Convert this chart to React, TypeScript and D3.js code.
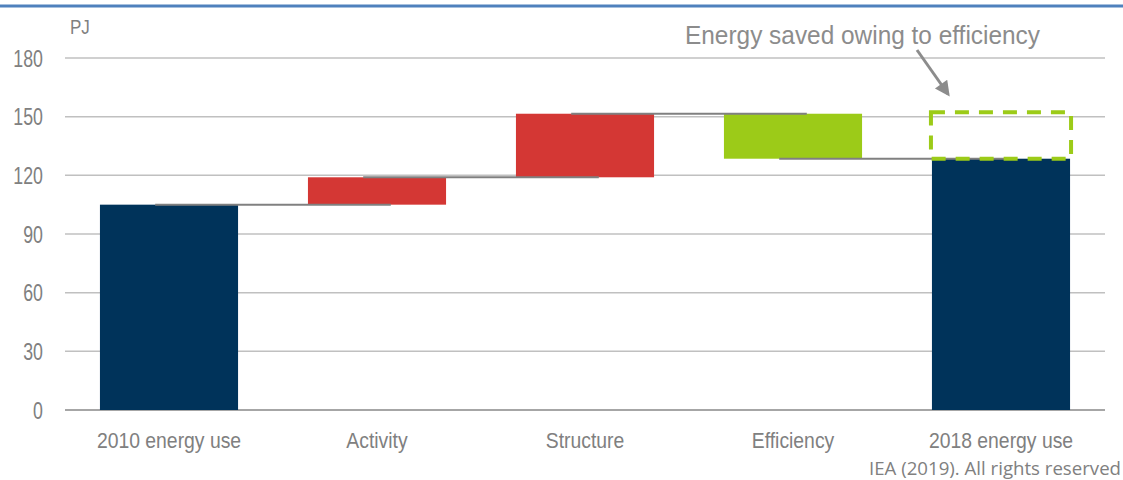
import React from "react";
import * as d3 from "d3";

const categories = ["2010 energy use", "Activity", "Structure", "Efficiency", "2018 energy use"];
const values = [105, 14, 32.5, -23, 128.5];
const kinds = ["total", "up", "up", "down", "total"];
const yTicks = [0, 30, 60, 90, 120, 150, 180];
const unitLabel = "PJ";
const annotation = "Energy saved owing to efficiency";
const source = "IEA (2019). All rights reserved";

const W = 1123;
const H = 480;
const colors: Record<string, string> = { total: "#00335a", up: "#d43734", down: "#9ccb18" };

function CText(props: { x: number; y: number; sx: number; size: number; anchor?: string; fill: string; children: React.ReactNode }) {
  return (
    <text transform={`translate(${props.x},${props.y}) scale(${props.sx},1)`} fontSize={props.size}
      textAnchor={props.anchor || "start"} fill={props.fill}>{props.children}</text>
  );
}

export default function App() {
  const x = d3.scaleBand<string>().domain(categories).range([65, 1105]).paddingInner(0.336).paddingOuter(0.168);
  const y = d3.scaleLinear().domain([0, 180]).range([410, 58]);
  const bw = x.bandwidth();

  let running = 0;
  const segs = categories.map((c, i) => {
    let lo: number, hi: number, end: number;
    if (kinds[i] === "total") {
      lo = 0; hi = values[i]; end = values[i];
    } else {
      const start = running;
      end = running + values[i];
      lo = Math.min(start, end); hi = Math.max(start, end);
    }
    running = end;
    return { c, lo, hi, end, kind: kinds[i] };
  });

  const peak = segs[2].end;
  const last = segs[4];
  const font = "'Liberation Sans', Arial, sans-serif";

  return (
    <svg width={W} height={H} style={{ position: "absolute", left: 0, top: 0, background: "#fff" }} fontFamily={font}>
      <line x1={0} x2={W} y1={6} y2={6} stroke="#4f81bd" strokeWidth={3} />
      {yTicks.map((t) => (
        <g key={t}>
          <line x1={65} x2={1105} y1={y(t)} y2={y(t)} stroke={t === 0 ? "#a6a6a6" : "#c0c0c0"} strokeWidth={t === 0 ? 2 : 1.5} />
          <CText x={43} y={y(t) + 8.5} sx={0.74} size={24} anchor="end" fill="#808080">{t}</CText>
        </g>
      ))}
      <CText x={70} y={34} sx={0.85} size={20} fill="#808080">{unitLabel}</CText>
      {segs.map((s) => (
        <rect key={s.c} x={x(s.c)} y={y(s.hi)} width={bw} height={y(s.lo) - y(s.hi)} fill={colors[s.kind]} />
      ))}
      {segs.slice(0, -1).map((s, i) => (
        <line key={"c" + i} x1={(x(s.c) as number) + bw * 0.4} x2={(x(categories[i + 1]) as number) + bw * 0.6}
          y1={y(s.end)} y2={y(s.end)} stroke="#808080" strokeWidth={2} />
      ))}
      <rect x={(x(last.c) as number) - 1} y={y(peak) - 1.5} width={bw + 2} height={y(last.end) - y(peak) + 1.5}
        fill="none" stroke="#9ccb18" strokeWidth={4} strokeDasharray="14 10" />
      {categories.map((c) => (
        <CText key={"l" + c} x={(x(c) as number) + bw / 2} y={448} sx={0.88} size={22} anchor="middle" fill="#808080">{c}</CText>
      ))}
      <text x={685} y={44} fontSize={26} fill="#8c8c8c" textLength={355} lengthAdjust="spacingAndGlyphs">{annotation}</text>
      <defs>
        <marker id="arr" viewBox="0 0 10 10" refX={8} refY={5} markerWidth={6} markerHeight={5} orient="auto">
          <path d="M0,0 L10,5 L0,10 z" fill="#8c8c8c" />
        </marker>
      </defs>
      <line x1={917} y1={50} x2={948} y2={94} stroke="#8c8c8c" strokeWidth={3} markerEnd="url(#arr)" />
      <text x={1121} y={475} textAnchor="end" fontSize={18} fill="#808080" fontFamily="'Open Sans', sans-serif"
        textLength={252} lengthAdjust="spacingAndGlyphs">{source}</text>
    </svg>
  );
}
